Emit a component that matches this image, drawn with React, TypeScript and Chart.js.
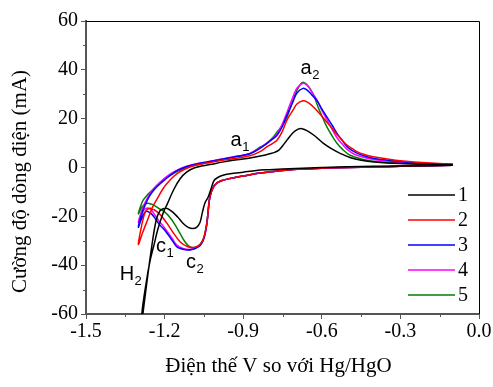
import { useEffect, useRef } from 'react';
import { Chart, registerables } from 'chart.js';

Chart.register(...registerables);

// ---------- data ----------
const cycleLabels = ['1', '2', '3', '4', '5'];
const cycleColors = ['#000000', '#ff0000', '#0000ff', '#ff00ff', '#008000'];

const xTickValues = [-1.5, -1.2, -0.9, -0.6, -0.3, 0.0];
const xMinorTicks = [-1.35, -1.05, -0.75, -0.45, -0.15];
const yTickValues = [-60, -40, -20, 0, 20, 40, 60];
const yMinorTicks = [-50, -30, -10, 10, 30, 50];

const xAxisTitle = 'Điện thế V so với Hg/HgO';
const yAxisTitle = 'Cường độ dòng điện (mA)';

// cycle 1 (black)
const cycle1Potential = [
  -0.1, -0.3, -0.5, -0.6, -0.7, -0.8, -0.85, -0.9, -0.95, -0.98, -1.0, -1.012, -1.022, -1.034,
  -1.046, -1.056, -1.065, -1.078, -1.093, -1.11, -1.13, -1.15, -1.17, -1.19, -1.205, -1.218,
  -1.232, -1.25, -1.27, -1.287, -1.3,
  -1.287, -1.27, -1.256, -1.24, -1.225, -1.205, -1.19, -1.165, -1.14, -1.115, -1.09, -1.06,
  -1.027, -0.98, -0.924, -0.874, -0.83, -0.8, -0.78, -0.765, -0.75, -0.733, -0.71, -0.69,
  -0.675, -0.655, -0.63, -0.595, -0.56, -0.53, -0.49, -0.45, -0.4, -0.3, -0.2, -0.1,
];
const cycle1Current = [
  0.9, 0.6, 0.3, 0.0, -0.4, -0.9, -1.2, -1.9, -2.6, -3.3, -4.3, -5.5, -8.5, -12.2,
  -14.5, -18.5, -22.5, -24.5, -25.0, -24.5, -22.8, -20.3, -18.2, -16.8, -16.9, -17.8,
  -21.5, -33, -49, -64, -80,
  -60, -47, -38.5, -31.5, -25, -18.5, -15, -9, -4.5, -1.8, -0.3, 0.6,
  1.2, 2.2, 3.2, 3.9, 4.8, 5.6, 6.2, 7.0, 8.8, 11.2, 14.2, 15.7,
  15.9, 15.0, 13.2, 10.0, 7.5, 5.8, 4.0, 3.0, 2.3, 1.6, 1.3, 1.1,
];

// cycle 2 (red)
const cycle2Potential = [
  -0.1, -0.2, -0.3, -0.4, -0.5, -0.6, -0.68, -0.75, -0.8, -0.85, -0.9, -0.95, -0.98, -1.0, -1.015,
  -1.027, -1.033, -1.038, -1.045, -1.053, -1.065, -1.08, -1.095, -1.115, -1.14, -1.165, -1.19,
  -1.215, -1.24, -1.26, -1.275, -1.288, -1.3,
  -1.285, -1.267, -1.245, -1.229, -1.205, -1.18, -1.15, -1.115, -1.08, -1.04, -1.0, -0.94,
  -0.874, -0.836, -0.81, -0.786, -0.771, -0.752, -0.733, -0.71, -0.695, -0.672, -0.655, -0.637,
  -0.618, -0.6, -0.58, -0.56, -0.542, -0.52, -0.504, -0.48, -0.466, -0.44, -0.404, -0.35, -0.3,
  -0.2, -0.1,
];
const cycle2Current = [
  0.9, 0.7, 0.5, 0.2, 0.0, -0.3, -0.6, -1.2, -1.8, -2.5, -3.5, -4.5, -5.3, -6.3, -8.3,
  -12, -17, -22.5, -26.5, -29.5, -31.5, -32.5, -32.8, -32.3, -30.5, -27, -23,
  -19.5, -17.3, -16.8, -18.5, -24, -31.5,
  -27, -22, -16, -13, -8.5, -5.2, -2.3, -0.3, 1.0, 1.8, 2.6, 3.6,
  4.8, 6.5, 8.4, 10, 11.2, 14.5, 19.4, 23.5, 26.0, 27.3, 26.8, 25.3,
  23.2, 21, 18.5, 16, 13.5, 11, 9.2, 7.5, 6.5, 5.4, 4.4, 3.5, 2.8,
  1.9, 1.4,
];

// cycle 3 (blue)
const cycle3Potential = [
  -0.1, -0.2, -0.3, -0.4, -0.5, -0.6, -0.68, -0.75, -0.8, -0.85, -0.9, -0.95, -0.98, -1.0, -1.015,
  -1.027, -1.033, -1.038, -1.045, -1.053, -1.065, -1.08, -1.095, -1.111, -1.13, -1.153, -1.17,
  -1.19, -1.205, -1.218, -1.235, -1.25, -1.265, -1.275, -1.288, -1.3,
  -1.29, -1.275, -1.256, -1.235, -1.21, -1.18, -1.15, -1.12, -1.09, -1.05, -1.0, -0.94,
  -0.874, -0.836, -0.81, -0.786, -0.771, -0.752, -0.733, -0.71, -0.695, -0.672, -0.655, -0.637,
  -0.618, -0.6, -0.58, -0.56, -0.542, -0.52, -0.504, -0.485, -0.466, -0.44, -0.404, -0.35, -0.275,
  -0.2, -0.1,
];
const cycle3Current = [
  0.9, 0.7, 0.5, 0.2, 0.0, -0.3, -0.6, -1.2, -1.8, -2.5, -3.5, -4.5, -5.3, -6.3, -8.3,
  -12, -17, -22.5, -27, -30, -32, -33, -33.6, -33.8, -33.5, -32.5, -30,
  -27, -25, -23.6, -21, -19, -18, -18.3, -21, -24.5,
  -20, -15.5, -11.4, -8.5, -6, -3.3, -1.2, 0.2, 1.1, 2.0, 3.0, 4.2,
  5.6, 7.8, 9.8, 11.8, 13.2, 16.5, 21.4, 27, 30.5, 32.4, 31.6, 29.6,
  27.4, 24, 20.6, 17.2, 14, 10.8, 8.6, 7, 5.9, 4.8, 3.8, 3.0, 2.2,
  1.7, 1.3,
];

// cycle 4 (magenta)
const cycle4Potential = [
  -0.1, -0.2, -0.3, -0.4, -0.5, -0.6, -0.68, -0.75, -0.8, -0.85, -0.9, -0.95, -0.98, -1.0, -1.015,
  -1.027, -1.033, -1.038, -1.045, -1.053, -1.065, -1.08, -1.095, -1.111, -1.13, -1.153, -1.17,
  -1.19, -1.205, -1.218, -1.235, -1.25, -1.265, -1.278, -1.29, -1.3,
  -1.29, -1.275, -1.26, -1.24, -1.215, -1.19, -1.16, -1.13, -1.1, -1.06, -1.0, -0.94,
  -0.874, -0.836, -0.81, -0.786, -0.771, -0.752, -0.733, -0.71, -0.695, -0.672, -0.655, -0.637,
  -0.618, -0.6, -0.58, -0.56, -0.542, -0.52, -0.504, -0.485, -0.466, -0.44, -0.404, -0.35, -0.275,
  -0.2, -0.1,
];
const cycle4Current = [
  0.9, 0.7, 0.5, 0.2, 0.0, -0.3, -0.6, -1.2, -1.8, -2.5, -3.5, -4.5, -5.3, -6.3, -8.3,
  -12, -17, -22.5, -27, -29.8, -31.8, -32.8, -33.4, -33.6, -33.2, -31.8, -29.3,
  -26.2, -24, -22.4, -19.8, -17.5, -16.6, -17.3, -19.5, -22.5,
  -18.5, -14.5, -11.4, -8.5, -5.8, -3.5, -1.5, 0, 1.0, 1.9, 3.1, 4.3,
  5.8, 8, 10, 12.2, 13.8, 17.5, 22.5, 29, 32.5, 34.5, 33.5, 30.8,
  27.5, 23.5, 19.5, 15.5, 12.2, 9.3, 7.5, 6, 5, 4.2, 3.3, 2.6, 2.0,
  1.6, 1.2,
];

// cycle 5 (green)
const cycle5Potential = [
  -0.1, -0.2, -0.3, -0.4, -0.5, -0.6, -0.68, -0.75, -0.8, -0.85, -0.9, -0.95, -0.98, -1.0, -1.015,
  -1.027, -1.033, -1.038, -1.045, -1.053, -1.065, -1.08, -1.095, -1.11, -1.125, -1.141, -1.16,
  -1.18, -1.2, -1.218, -1.235, -1.25, -1.265, -1.278, -1.29, -1.3,
  -1.292, -1.282, -1.267, -1.256, -1.235, -1.206, -1.175, -1.141, -1.11, -1.076, -1.04, -1.0,
  -0.939, -0.874, -0.836, -0.81, -0.786, -0.771, -0.752, -0.733, -0.715, -0.695, -0.68, -0.672,
  -0.66, -0.648, -0.637, -0.625, -0.614, -0.597, -0.58, -0.56, -0.542, -0.52, -0.492, -0.45,
  -0.404, -0.3, -0.2, -0.1,
];
const cycle5Current = [
  0.9, 0.7, 0.5, 0.2, 0.0, -0.3, -0.6, -1.2, -1.8, -2.5, -3.5, -4.5, -5.3, -6.3, -8.3,
  -12, -17, -22, -26.5, -29.5, -31.5, -32.5, -32.8, -32, -30, -27, -23.5,
  -20.4, -18.2, -17, -15.8, -15, -14.6, -15.2, -16.8, -19,
  -16, -13.4, -11.4, -10.2, -8, -5.2, -3, -1.1, 0.2, 1.0, 2.0, 3.0,
  4.2, 5.8, 8.3, 9.9, 12.4, 14.5, 17, 20.6, 26, 31.6, 34.3, 34.9,
  34.3, 32.8, 30.9, 28, 24.7, 20.5, 16.5, 12.8, 9.9, 7.3, 5, 3.5,
  2.6, 1.8, 1.3, 1.1,
];

const cyclePotentials = [cycle1Potential, cycle2Potential, cycle3Potential, cycle4Potential, cycle5Potential];
const cycleCurrents = [cycle1Current, cycle2Current, cycle3Current, cycle4Current, cycle5Current];

// peak annotations (data coordinates)
const peakNames = ['a', 'a', 'c', 'c', 'H'];
const peakSubs = ['1', '2', '1', '2', '2'];
const peakPotentials = [-0.927, -0.66, -1.214, -1.099, -1.344];
const peakCurrents = [11.2, 40.6, -32.3, -38.7, -43.7];

const SERIF = '"Liberation Serif", "Times New Roman", serif';
const SANS = '"Liberation Sans", Arial, sans-serif';

const extrasPlugin = {
  id: 'extras',
  afterDraw(chart: any) {
    const { ctx, chartArea, scales } = chart;
    const xs = scales.x;
    const ys = scales.y;
    ctx.save();
    // top & right frame
    ctx.strokeStyle = '#000';
    ctx.lineWidth = 1;
    ctx.beginPath();
    ctx.moveTo(chartArea.left, chartArea.top + 0.5);
    ctx.lineTo(chartArea.right + 0.5, chartArea.top + 0.5);
    ctx.lineTo(chartArea.right + 0.5, chartArea.bottom);
    ctx.stroke();
    // minor ticks
    ctx.strokeStyle = '#555';
    ctx.lineWidth = 1;
    ctx.beginPath();
    xMinorTicks.forEach((v) => {
      const px = Math.round(xs.getPixelForValue(v)) + 0.5;
      ctx.moveTo(px, chartArea.bottom);
      ctx.lineTo(px, chartArea.bottom + 3);
    });
    yMinorTicks.forEach((v) => {
      const py = Math.round(ys.getPixelForValue(v)) + 0.5;
      ctx.moveTo(chartArea.left, py);
      ctx.lineTo(chartArea.left - 3, py);
    });
    ctx.stroke();

    // peak labels
    ctx.fillStyle = '#000';
    ctx.textBaseline = 'middle';
    peakNames.forEach((name, i) => {
      const px = xs.getPixelForValue(peakPotentials[i]);
      const py = ys.getPixelForValue(peakCurrents[i]);
      ctx.font = `20px ${SANS}`;
      ctx.textAlign = 'center';
      ctx.fillText(name, px, py);
      const w = ctx.measureText(name).width;
      ctx.font = `13px ${SANS}`;
      ctx.textAlign = 'left';
      ctx.fillText(peakSubs[i], px + w / 2 + 0.5, py + 7);
    });

    // legend
    cycleLabels.forEach((lab, i) => {
      const ly = chartArea.bottom - 119 + i * 25;
      ctx.strokeStyle = cycleColors[i];
      ctx.lineWidth = 1.5;
      ctx.beginPath();
      ctx.moveTo(chartArea.right - 71, ly);
      ctx.lineTo(chartArea.right - 24, ly);
      ctx.stroke();
      ctx.fillStyle = '#000';
      ctx.font = `20px ${SERIF}`;
      ctx.textAlign = 'left';
      ctx.textBaseline = 'middle';
      ctx.fillText(lab, chartArea.right - 21, ly + 1);
    });

    // axis titles
    ctx.fillStyle = '#000';
    ctx.font = `21px ${SERIF}`;
    ctx.textAlign = 'center';
    ctx.textBaseline = 'alphabetic';
    ctx.fillText(xAxisTitle, (chartArea.left + chartArea.right) / 2 - 4, chartArea.bottom + 58);
    ctx.save();
    ctx.translate(26, (chartArea.top + chartArea.bottom) / 2 + 14);
    ctx.rotate(-Math.PI / 2);
    ctx.fillText(yAxisTitle, 0, 0);
    ctx.restore();
    ctx.restore();
  },
};

export default function App() {
  const canvasRef = useRef<HTMLCanvasElement | null>(null);

  useEffect(() => {
    if (!canvasRef.current) return;
    const datasets = cycleLabels.map((lab, i) => ({
      label: lab,
      data: cyclePotentials[i].map((x, j) => ({ x, y: cycleCurrents[i][j] })),
      borderColor: cycleColors[i],
      backgroundColor: cycleColors[i],
      borderWidth: 1.5,
      pointRadius: 0,
      showLine: true,
      fill: false,
      tension: 0.35,
    }));
    const chart = new Chart(canvasRef.current, {
      type: 'scatter',
      data: { datasets },
      options: {
        animation: false,
        responsive: true,
        maintainAspectRatio: false,
        layout: { padding: { top: 21, right: 14, left: 0, bottom: 0 } },
        plugins: {
          legend: { display: false },
          tooltip: { enabled: false },
        },
        scales: {
          x: {
            type: 'linear',
            min: -1.5,
            max: 0,
            afterFit: (s: any) => {
              s.height = 73;
            },
            afterBuildTicks: (s: any) => {
              s.ticks = xTickValues.map((v) => ({ value: v }));
            },
            ticks: {
              color: '#000',
              font: { family: SERIF, size: 20 },
              padding: 1,
              maxRotation: 0,
              autoSkip: false,
              callback: (v: any) => Number(v).toFixed(1),
            },
            grid: {
              drawOnChartArea: false,
              drawTicks: true,
              tickLength: 5,
              color: '#555',
              lineWidth: 1,
            },
            border: { display: true, color: '#555', width: 2 },
          },
          y: {
            type: 'linear',
            min: -60,
            max: 60,
            afterFit: (s: any) => {
              s.width = 86;
            },
            afterBuildTicks: (s: any) => {
              s.ticks = yTickValues.map((v) => ({ value: v }));
            },
            ticks: {
              color: '#000',
              font: { family: SERIF, size: 20 },
              padding: 3,
              autoSkip: false,
              callback: (v: any) => String(v),
            },
            grid: {
              drawOnChartArea: false,
              drawTicks: true,
              tickLength: 5,
              color: '#555',
              lineWidth: 1,
            },
            border: { display: true, color: '#555', width: 2 },
          },
        },
      },
      plugins: [extrasPlugin],
    });
    return () => chart.destroy();
  }, []);

  return (
    <div style={{ position: 'fixed', left: 0, top: 0, width: 493, height: 387, background: '#fff' }}>
      <canvas ref={canvasRef} />
    </div>
  );
}
